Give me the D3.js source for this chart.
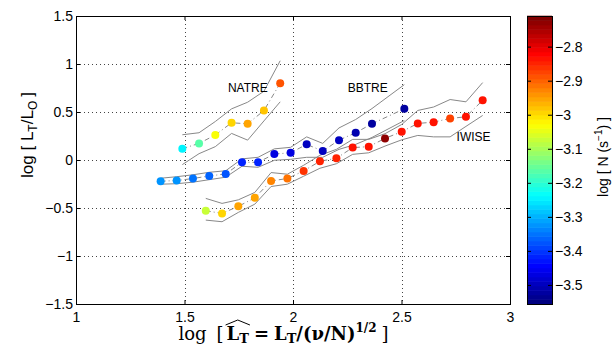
<!DOCTYPE html>
<html>
<head>
<meta charset="utf-8">
<script src="https://cdnjs.cloudflare.com/ajax/libs/d3/7.8.5/d3.min.js"></script>
<style>
  body { margin: 0; background: #fff; }
  svg { display: block; }
</style>
</head>
<body>
<div id="chart"></div>
<script>
// tick labels
const xTicks = [1, 1.5, 2, 2.5, 3];
const yTicks = [-1.5, -1, -0.5, 0, 0.5, 1, 1.5];
const cTicks = [-3.5, -3.4, -3.3, -3.2, -3.1, -3, -2.9, -2.8];
const cDomain = [-3.556, -2.71];

// NATRE
const natreX  = [1.490, 1.567, 1.642, 1.717, 1.791, 1.866, 1.941];
const natreY  = [0.118, 0.173, 0.260, 0.388, 0.377, 0.515, 0.800];
const natreUp = [0.263, 0.284, 0.401, 0.533, 0.602, 0.716, 1.034];
const natreLo = [-0.048, 0.066, 0.139, 0.277, 0.207, 0.407, 0.606];
const natreN  = [-3.24, -3.17, -3.03, -3.00, -2.955, -2.98, -2.89];

// BBTRE
const bbtreX  = [1.390, 1.464, 1.539, 1.614, 1.690, 1.765, 1.839, 1.914, 1.989, 2.063, 2.137, 2.212, 2.289, 2.364, 2.513];
const bbtreY  = [-0.221, -0.214, -0.193, -0.166, -0.145, -0.024, -0.024, 0.062, 0.075, 0.163, 0.093, 0.207, 0.284, 0.378, 0.533];
const bbtreUp = [-0.190, -0.174, -0.154, -0.128, -0.112, 0.012, 0.028, 0.116, 0.132, 0.241, 0.173, 0.334, 0.422, 0.536, 0.785];
const bbtreLo = [-0.252, -0.247, -0.231, -0.205, -0.179, -0.065, -0.076, -0.003, 0.007, 0.028, 0.028, 0.111, 0.163, 0.235, 0.411];
const bbtreN  = [-3.331, -3.331, -3.35, -3.367, -3.384, -3.417, -3.42, -3.476, -3.476, -3.497, -3.497, -3.50, -3.516, -3.529, -3.525];

// IWISE
const iwiseX  = [1.598, 1.673, 1.748, 1.824, 1.899, 1.974, 2.049, 2.124, 2.200, 2.275, 2.349, 2.424, 2.501, 2.575, 2.648, 2.724, 2.797, 2.874];
const iwiseY  = [-0.529, -0.556, -0.483, -0.394, -0.218, -0.193, -0.114, -0.013, 0.018, 0.129, 0.139, 0.225, 0.295, 0.381, 0.394, 0.433, 0.450, 0.622];
const iwiseUp = [-0.400, -0.452, -0.415, -0.338, -0.131, -0.148, -0.055, 0.049, 0.111, 0.215, 0.215, 0.274, 0.370, 0.516, 0.552, 0.630, 0.606, 0.806];
const iwiseLo = [-0.626, -0.643, -0.546, -0.460, -0.276, -0.252, -0.169, -0.086, -0.039, 0.059, 0.075, 0.145, 0.210, 0.256, 0.241, 0.241, 0.350, 0.464];
const iwiseN  = [-3.07, -3.00, -2.96, -2.955, -2.93, -2.91, -2.856, -2.845, -2.845, -2.84, -2.835, -2.735, -2.83, -2.83, -2.84, -2.87, -2.83, -2.83];

const series = [
  { name: 'NATRE', x: natreX, y: natreY, up: natreUp, lo: natreLo, n: natreN },
  { name: 'BBTRE', x: bbtreX, y: bbtreY, up: bbtreUp, lo: bbtreLo, n: bbtreN },
  { name: 'IWISE', x: iwiseX, y: iwiseY, up: iwiseUp, lo: iwiseLo, n: iwiseN }
];

const W = 614, H = 352;
const plot = { left: 76, right: 510, top: 16, bottom: 304 };
const cbar = { left: 527, right: 552 };
const sans = '"Liberation Sans", Arial, Helvetica, sans-serif';
const serif = '"DejaVu Serif", "Liberation Serif", serif';

const svg = d3.select('#chart').append('svg')
  .attr('width', W).attr('height', H)
  .attr('font-family', sans);

const x = d3.scaleLinear().domain([1, 3]).range([plot.left, plot.right]);
const y = d3.scaleLinear().domain([-1.5, 1.5]).range([plot.bottom, plot.top]);
const cY = d3.scaleLinear().domain(cDomain).range([plot.bottom, plot.top]);
const cT = d3.scaleLinear().domain(cDomain).range([0, 1]).clamp(true);

// MATLAB jet, 64 levels
function jet(t) {
  t = Math.min(63, Math.floor(t * 64)) / 63;
  const c = v => Math.max(0, Math.min(1, v)) * 255;
  return d3.rgb(c(1.5 - Math.abs(4 * t - 3)), c(1.5 - Math.abs(4 * t - 2)), c(1.5 - Math.abs(4 * t - 1))).formatHex();
}
const color = v => jet(cT(v));

//grid
const grid = svg.append('g').attr('stroke', '#444').attr('stroke-width', 1).attr('stroke-dasharray', '1,3');
grid.selectAll('.gx').data(xTicks.slice(1, -1)).enter().append('line')
  .attr('x1', d => Math.round(x(d)) + 0.5).attr('x2', d => Math.round(x(d)) + 0.5)
  .attr('y1', plot.top).attr('y2', plot.bottom);
grid.selectAll('.gy').data(yTicks.slice(1, -1)).enter().append('line')
  .attr('y1', d => Math.round(y(d)) + 0.5).attr('y2', d => Math.round(y(d)) + 0.5)
  .attr('x1', plot.left).attr('x2', plot.right);

//axes
const fmt = d3.format('~g');
const axB = svg.append('g').attr('transform', `translate(0,${plot.bottom})`)
  .call(d3.axisBottom(x).tickValues(xTicks).tickFormat(fmt).tickSizeInner(-4).tickSizeOuter(0).tickPadding(8));
const axT = svg.append('g').attr('transform', `translate(0,${plot.top})`)
  .call(d3.axisTop(x).tickValues(xTicks).tickFormat('').tickSizeInner(-4).tickSizeOuter(0));
const axL = svg.append('g').attr('transform', `translate(${plot.left},0)`)
  .call(d3.axisLeft(y).tickValues(yTicks).tickFormat(fmt).tickSizeInner(-4).tickSizeOuter(0).tickPadding(3));
const axR = svg.append('g').attr('transform', `translate(${plot.right},0)`)
  .call(d3.axisRight(y).tickValues(yTicks).tickFormat('').tickSizeInner(-4).tickSizeOuter(0));
[axB, axT, axL, axR].forEach(a => {
  a.select('.domain').remove();
  a.selectAll('text').attr('font-family', sans).attr('font-size', 14).attr('fill', '#000');
});

// envelopes and centre lines
const line = d3.line().x(d => x(d[0])).y(d => y(d[1]));
const lines = svg.append('g').attr('fill', 'none');
series.forEach(s => {
  lines.append('path').datum(s.x.map((v, i) => [v, s.up[i]]))
    .attr('d', line).attr('stroke', '#888').attr('stroke-width', 1);
  lines.append('path').datum(s.x.map((v, i) => [v, s.lo[i]]))
    .attr('d', line).attr('stroke', '#888').attr('stroke-width', 1);
  lines.append('path').datum(s.x.map((v, i) => [v, s.y[i]]))
    .attr('d', line).attr('stroke', '#888').attr('stroke-width', 1)
    .attr('stroke-dasharray', '5,3,1,3');
});

// markers
const dots = svg.append('g');
series.forEach(s => {
  dots.selectAll(null).data(s.x.map((v, i) => ({ x: v, y: s.y[i], n: s.n[i] })))
    .enter().append('circle')
    .attr('cx', d => x(d.x)).attr('cy', d => y(d.y)).attr('r', 4)
    .attr('fill', d => color(d.n));
});

// series labels
const labels = [['NATRE', 1.700, 0.708], ['BBTRE', 2.252, 0.705], ['IWISE', 2.754, 0.198]];
svg.append('g').selectAll('text').data(labels).enter().append('text')
  .attr('x', d => x(d[1])).attr('y', d => y(d[2]))
  .attr('font-size', 12).text(d => d[0]);

// box
svg.append('rect')
  .attr('x', plot.left + 0.5).attr('y', plot.top + 0.5)
  .attr('width', plot.right - plot.left).attr('height', plot.bottom - plot.top)
  .attr('fill', 'none').attr('stroke', '#000').attr('stroke-width', 1);

// colorbar
const steps = d3.range(64).map(i => cDomain[0] + (i + 0.5) * (cDomain[1] - cDomain[0]) / 64);
const stepH = (plot.bottom - plot.top) / 64;
svg.append('g').selectAll('rect').data(steps).enter().append('rect')
  .attr('x', cbar.left).attr('width', cbar.right - cbar.left)
  .attr('y', d => cY(d) - stepH / 2 - 0.3).attr('height', stepH + 0.6)
  .attr('fill', d => color(d));
const cAx = svg.append('g').attr('transform', `translate(${cbar.right},0)`)
  .call(d3.axisRight(cY).tickValues(cTicks).tickFormat(fmt).tickSizeInner(-4).tickSizeOuter(0).tickPadding(3));
const cAxL = svg.append('g').attr('transform', `translate(${cbar.left},0)`)
  .call(d3.axisLeft(cY).tickValues(cTicks).tickFormat('').tickSizeInner(-4).tickSizeOuter(0));
[cAx, cAxL].forEach(a => {
  a.select('.domain').remove();
  a.selectAll('text').attr('font-family', sans).attr('font-size', 14).attr('fill', '#000');
});
svg.append('rect')
  .attr('x', cbar.left + 0.5).attr('y', plot.top + 0.5)
  .attr('width', cbar.right - cbar.left).attr('height', plot.bottom - plot.top)
  .attr('fill', 'none').attr('stroke', '#000').attr('stroke-width', 1);

// text made of pieces: sub/superscripts, bold
function rich(parent, parts, family, size) {
  const g = parent.append('g');
  let cx = 0;
  parts.forEach(p => {
    cx += p.gap || 0;
    const t = g.append('text').attr('x', cx).attr('y', p.dy || 0)
      .attr('font-family', family).attr('font-size', p.size || size)
      .attr('font-weight', p.bold ? 'bold' : 'normal').text(p.t);
    p.x0 = cx;
    cx += t.node().getComputedTextLength();
    p.x1 = cx;
  });
  return { g, width: cx };
}

// x label
const xParts = [
  { t: 'log' },
  { t: '[', gap: 10 },
  { t: 'L', bold: true, gap: 3 },
  { t: 'T', bold: true, size: 13, dy: 3 },
  { t: '=', bold: true, gap: 5 },
  { t: 'L', bold: true, gap: 5 },
  { t: 'T', bold: true, size: 13, dy: 3 },
  { t: '/(\u03BD/N)', bold: true },
  { t: '1/2', bold: true, size: 12, dy: -8 },
  { t: ']', gap: 5 }
];
const xl = rich(svg, xParts, serif, 18);
xl.g.attr('transform', `translate(${283.5 - xl.width / 2},340)`);
xl.g.append('path')
  .attr('d', `M${xParts[2].x0 - 1},-15 L${(xParts[2].x0 + xParts[3].x1) / 2},-20 L${xParts[3].x1 + 1},-15`)
  .attr('fill', 'none').attr('stroke', '#000').attr('stroke-width', 1);

// y label
const yParts = [
  { t: 'log [ L' },
  { t: 'T', size: 12, dy: 4 },
  { t: '/L' },
  { t: 'O', size: 12, dy: 4 },
  { t: ' ]', gap: 4 }
];
const yl = rich(svg, yParts, sans, 17);
yl.g.attr('transform', `translate(33,${135 + yl.width / 2}) rotate(-90)`);

// colorbar label
const cParts = [
  { t: 'log [ N (s' },
  { t: '\u22121', size: 10, dy: -6 },
  { t: ') ]' }
];
const cl = rich(svg, cParts, sans, 14);
cl.g.attr('transform', `translate(608,${157 + cl.width / 2}) rotate(-90)`);
</script>
</body>
</html>
